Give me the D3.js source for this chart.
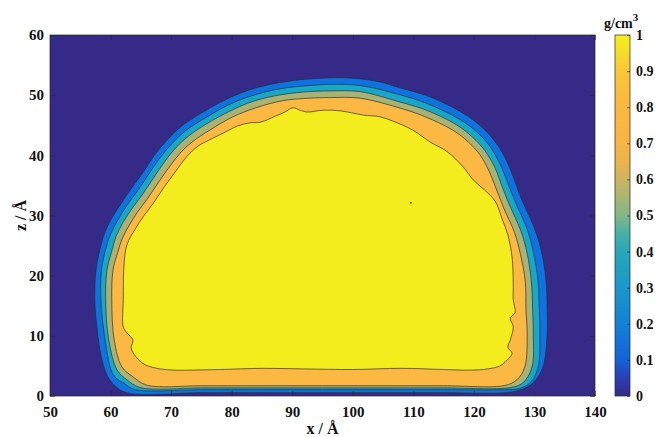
<!DOCTYPE html>
<html>
<head>
<meta charset="utf-8">
<script src="https://cdn.jsdelivr.net/npm/d3@7"></script>
<style>
  body { margin: 0; background: #fff; }
  text { font-family: "Liberation Serif", "Times New Roman", serif; font-weight: bold; fill: #111; }
</style>
</head>
<body>
<svg id="chart" width="655" height="437"></svg>
<script>
// Axis ticks
const xTicks = [50, 60, 70, 80, 90, 100, 110, 120, 130, 140];
const zTicks = [0, 10, 20, 30, 40, 50, 60];
const cbTicks = [0, 0.1, 0.2, 0.3, 0.4, 0.5, 0.6, 0.7, 0.8, 0.9, 1];

// Density contour levels (g/cm^3) and their closed outlines, [x (Å), z (Å)]
const levels = [0.1, 0.3, 0.5, 0.7, 0.9];

const contour01 = [
  [62.7,0.55],[60.4,2.0],[59.2,4.0],[58.4,6.8],[57.8,11.0],[57.4,16.0],[57.6,20.9],[58.3,24.6],
  [59.1,27.3],[60.4,29.9],[61.9,32.2],[63.5,34.6],[65.4,37.2],[67.3,40.1],[69.5,42.7],[71.8,44.9],
  [74.8,46.9],[78.9,49.2],[83.0,50.9],[88.0,52.1],[92.9,52.7],[99.5,52.85],[104.5,52.2],[107.3,51.35],
  [112.8,49.7],[118.2,47.0],[121.3,44.7],[123.7,42.0],[125.5,38.9],[126.8,35.6],[127.9,32.6],[129.8,28.4],
  [131.1,24.3],[131.9,19.3],[132.1,14.3],[132.1,10.5],[131.4,4.8],[129.8,2.2],[127.6,1.0],[125.1,0.55],
  [115,0.55],[105,0.55],[95,0.55],[85,0.55],[75,0.55]
];
const contour03 = [
  [64.0,1.1],[62.1,2.2],[60.9,3.0],[60.1,4.3],[59.1,9.3],[58.4,16.0],[58.5,20.9],[59.2,24.4],
  [60.0,26.9],[61.3,29.4],[62.7,31.7],[64.4,34.0],[66.2,36.7],[68.1,39.5],[70.2,42.0],[72.4,44.1],
  [75.3,46.0],[79.3,48.3],[83.3,49.9],[88.2,51.1],[92.9,51.6],[96.2,51.8],[101.2,51.6],[107.3,50.2],
  [112.3,48.6],[117.6,46.0],[120.6,43.8],[122.7,41.4],[124.4,38.4],[125.7,35.1],[126.9,32.1],[128.7,28.0],
  [129.8,24.0],[130.6,19.1],[130.8,14.3],[130.9,10.5],[130.6,4.8],[129.3,2.2],[127.3,1.2],[125.1,1.05],
  [115,1.05],[105,1.05],[95,1.05],[85,1.05],[75,1.05]
];
const contour05 = [
  [64.9,1.4],[62.7,2.7],[61.1,4.3],[59.7,9.3],[59.2,16.0],[59.4,20.9],[60.2,24.1],[60.9,26.5],
  [62.1,28.9],[63.5,31.1],[65.2,33.4],[67.0,36.1],[68.9,38.9],[70.9,41.4],[73.0,43.3],[75.8,45.2],
  [79.8,47.4],[83.6,49.0],[88.3,50.1],[92.9,50.6],[96.2,50.7],[101.2,50.6],[107.3,49.0],
  [111.9,47.6],[117.1,45.1],[119.8,43.0],[121.8,40.8],[123.5,37.9],[124.7,34.7],[125.9,31.7],[127.7,27.6],
  [128.8,23.7],[129.5,19.0],[129.7,14.3],[129.8,10.5],[129.6,4.8],[128.1,2.2],[126.0,1.4],
  [115,1.35],[105,1.35],[95,1.35],[85,1.35],[75,1.35]
];
const contour07 = [
  [66.0,1.8],[63.7,3.2],[61.9,4.8],[60.6,9.3],[60.2,16.0],[60.4,20.9],[61.2,23.9],[61.9,26.1],
  [63.1,28.4],[64.4,30.5],[66.1,32.8],[67.9,35.5],[69.8,38.2],[71.7,40.6],[73.7,42.4],[76.4,44.2],
  [80.2,46.4],[84.0,47.9],[88.5,49.1],[92.9,49.5],[96.2,49.6],[101.2,49.5],[107.3,48.0],
  [111.5,46.6],[116.5,44.2],[119.1,42.2],[121.0,40.1],[122.5,37.4],[123.7,34.4],[124.9,31.3],[126.7,27.2],
  [127.7,23.5],[128.5,18.9],[128.6,14.3],[128.8,10.5],[128.4,4.8],[127.1,2.7],[125.1,1.75],
  [115,1.7],[105,1.7],[95,1.7],[85,1.7],[75,1.7]
];
const contour09 = [
  [70.6,4.3],[68.2,4.5],[65.7,5.2],[64.2,6.5],[63.4,8.0],[63.7,9.3],[62.7,10.5],[62.1,11.5],
  [62.1,16.0],[62.2,21.4],[62.7,25.1],[64.1,27.8],[65.4,29.8],[67.1,32.1],[68.9,34.8],[70.8,37.4],
  [72.6,39.8],[74.4,41.5],[76.2,42.5],[77.6,43.2],[79.2,44.0],[81.0,44.9],[83.0,45.4],[84.7,45.5],
  [87.2,46.5],[88.8,47.2],[90.1,47.9],[91.3,47.5],[92.4,47.2],[95.1,47.5],[97.9,47.4],
  [101.7,46.7],[104.5,46.4],[106.6,45.7],[109.9,44.2],[112.8,42.2],[115.6,40.6],[118.2,38.1],[119.9,35.9],
  [121.8,34.2],[123.5,32.4],[124.6,29.6],[125.6,26.8],[126.3,23.1],[126.5,18.8],[126.5,16.0],[126.8,13.8],
  [126.0,13.0],[126.5,11.5],[126.0,9.3],[125.6,8.1],[126.3,7.1],[125.5,6.0],[124.3,5.0],[122.3,4.5],
  [119.4,4.3],[115,4.4],[108,4.6],[100,4.4],[92,4.5],[85,4.6],[78,4.4],[73,4.3]
];
const contours = [contour01, contour03, contour05, contour07, contour09];

// Small isolated low-density pocket inside the core
const pockets = [[109.6, 32.1]];

// Colormap (value -> colour) used by the colorbar
const cmapStops = [
  [0, "#352a87"], [0.05, "#2a40b8"], [0.1, "#1562d8"], [0.2, "#1281d6"], [0.3, "#1a97cc"],
  [0.4, "#25a8b8"], [0.45, "#45b1a5"], [0.5, "#82b887"], [0.55, "#a8b572"], [0.6, "#cdb45f"],
  [0.65, "#ecb44c"], [0.7, "#f8b444"], [0.8, "#fbb83f"], [0.9, "#f9c637"], [0.95, "#f6dc2c"],
  [1, "#f4f01c"]
];
// Fill for the background and for the region above each level
const bandFills = ["#352a87", "#0e72e1", "#17a8c9", "#a8b272", "#fbb842", "#f3ed1d"];

const svg = d3.select("#chart");
const plot = { left: 50, right: 595, top: 35, bottom: 396 };
const cb = { left: 615, right: 630, top: 35, bottom: 396 };

const x = d3.scaleLinear().domain([50, 140]).range([plot.left, plot.right]);
const z = d3.scaleLinear().domain([0, 60]).range([plot.bottom, plot.top]);
const c = d3.scaleLinear().domain([0, 1]).range([cb.bottom, cb.top]);

const defs = svg.append("defs");
defs.append("clipPath").attr("id", "clip")
  .append("rect")
  .attr("x", plot.left).attr("y", plot.top)
  .attr("width", plot.right - plot.left).attr("height", plot.bottom - plot.top);

const grad = defs.append("linearGradient").attr("id", "cmap")
  .attr("x1", 0).attr("y1", 1).attr("x2", 0).attr("y2", 0);
grad.selectAll("stop").data(cmapStops).join("stop")
  .attr("offset", d => d[0]).attr("stop-color", d => d[1]);

const g = svg.append("g").attr("clip-path", "url(#clip)");

// background (density below the lowest level)
g.append("rect")
  .attr("x", plot.left).attr("y", plot.top)
  .attr("width", plot.right - plot.left).attr("height", plot.bottom - plot.top)
  .attr("fill", bandFills[0]);

const line = d3.line()
  .x(d => x(d[0])).y(d => z(d[1]))
  .curve(d3.curveCatmullRomClosed.alpha(0.5));

g.selectAll("path.level").data(contours).join("path")
  .attr("class", "level")
  .attr("d", line)
  .attr("fill", (d, i) => bandFills[i + 1])
  .attr("stroke", "#2b2b2b")
  .attr("stroke-opacity", 0.85)
  .attr("stroke-width", 0.8);

g.selectAll("circle.pocket").data(pockets).join("circle")
  .attr("class", "pocket")
  .attr("cx", d => x(d[0])).attr("cy", d => z(d[1]))
  .attr("r", 0.9).attr("fill", "#5a3a20");

// axes (ticks pointing inward, boxed)
const fs = 15;
const ax = svg.append("g").attr("transform", `translate(0,${plot.bottom})`)
  .call(d3.axisBottom(x).tickValues(xTicks).tickSizeInner(-5).tickSizeOuter(0).tickPadding(10).tickFormat(d3.format("d")));
const axTop = svg.append("g").attr("transform", `translate(0,${plot.top})`)
  .call(d3.axisTop(x).tickValues(xTicks).tickSizeInner(-5).tickSizeOuter(0).tickFormat(""));
const ay = svg.append("g").attr("transform", `translate(${plot.left},0)`)
  .call(d3.axisLeft(z).tickValues(zTicks).tickSizeInner(-5).tickSizeOuter(0).tickPadding(6).tickFormat(d3.format("d")));
const ayR = svg.append("g").attr("transform", `translate(${plot.right},0)`)
  .call(d3.axisRight(z).tickValues(zTicks).tickSizeInner(-5).tickSizeOuter(0).tickFormat(""));

[ax, axTop, ay, ayR].forEach(a => {
  a.select(".domain").remove();
  a.selectAll(".tick line").attr("stroke", "#262626").attr("stroke-width", 0.6);
  a.selectAll(".tick text").style("font-size", fs + "px").attr("fill", "#111")
    .style("font-family", '"Liberation Serif", serif').style("font-weight", "bold");
});

svg.append("rect")
  .attr("x", plot.left).attr("y", plot.top)
  .attr("width", plot.right - plot.left).attr("height", plot.bottom - plot.top)
  .attr("fill", "none").attr("stroke", "#262626").attr("stroke-width", 0.7);

// axis titles
svg.append("text")
  .attr("x", (plot.left + plot.right) / 2).attr("y", 434)
  .attr("text-anchor", "middle").style("font-size", "16px")
  .text("x / Å");
svg.append("text")
  .attr("transform", `translate(26,${(plot.top + plot.bottom) / 2}) rotate(-90)`)
  .attr("text-anchor", "middle").style("font-size", "16px")
  .text("z / Å");

// colorbar
svg.append("rect")
  .attr("x", cb.left).attr("y", cb.top)
  .attr("width", cb.right - cb.left).attr("height", cb.bottom - cb.top)
  .attr("fill", "url(#cmap)");
const cax = svg.append("g").attr("transform", `translate(${cb.right},0)`)
  .call(d3.axisRight(c).tickValues(cbTicks).tickSizeInner(-3).tickSizeOuter(0).tickPadding(6)
    .tickFormat(d => d === 0 || d === 1 ? d3.format("d")(d) : d3.format(".1f")(d)));
cax.select(".domain").remove();
cax.selectAll(".tick line").attr("stroke", "#262626").attr("stroke-width", 0.6);
cax.selectAll(".tick text").style("font-size", "14px").attr("fill", "#111")
  .style("font-family", '"Liberation Serif", serif').style("font-weight", "bold");
svg.append("rect")
  .attr("x", cb.left).attr("y", cb.top)
  .attr("width", cb.right - cb.left).attr("height", cb.bottom - cb.top)
  .attr("fill", "none").attr("stroke", "#262626").attr("stroke-width", 0.7);

const unit = svg.append("text").attr("x", 604).attr("y", 28).style("font-size", "14px");
unit.append("tspan").text("g/cm");
unit.append("tspan").attr("dy", -7).style("font-size", "11px").text("3");
</script>
</body>
</html>
